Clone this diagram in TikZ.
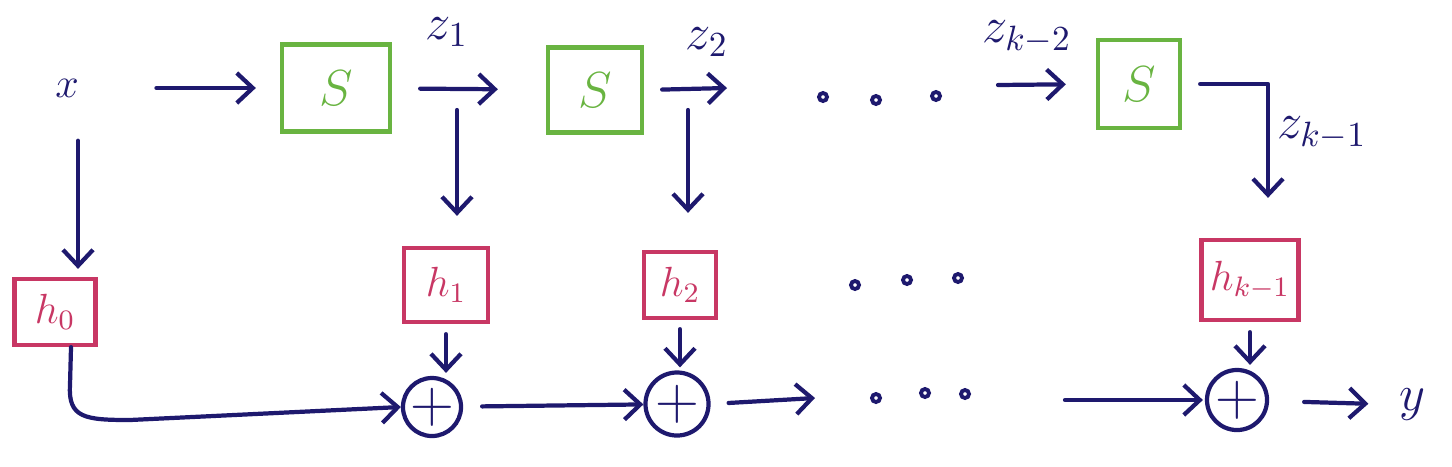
\documentclass[tikz,border=0pt]{standalone}
\usetikzlibrary{arrows.meta}
\definecolor{navy}{RGB}{30,25,110}
\definecolor{sgreen}{RGB}{105,180,65}
\definecolor{hred}{RGB}{200,55,100}
\begin{document}
\begin{tikzpicture}[x=0.01cm,y=-0.01cm,
  line width=1.2pt,
  arr/.style={navy,-{Straight Barb[length=1.6mm,width=3mm,line width=1.2pt]},line cap=round},
  lab/.style={navy,inner sep=1pt,font=\Large},
  sbox/.style={draw=sgreen,text=sgreen,font=\Large,inner sep=0pt},
  hbox/.style={draw=hred,text=hred,font=\large,inner sep=0pt},
  plusc/.style={draw=navy,text=navy,circle,inner sep=0pt,font=\LARGE},
  dotc/.style={draw=navy,circle,inner sep=0pt,minimum size=0.08cm,line width=1.1pt}]
\useasboundingbox (0,0) rectangle (1452,466);
% inputs / outputs
\node[lab,font=\large] (x) at (67,88) {$x$};
\node[lab] (y) at (1412,405) {$y$};
% S blocks
\node[sbox,minimum width=1.08cm,minimum height=0.87cm] (s1) at (336,88) {$S$};
\node[sbox,minimum width=0.94cm,minimum height=0.85cm] (s2) at (595,90) {$S$};
\node[sbox,minimum width=0.82cm,minimum height=0.88cm] (s3) at (1139,84) {$S$};
% h blocks
\node[hbox,minimum width=0.81cm,minimum height=0.66cm] (h0) at (55,312) {$h_0$};
\node[hbox,minimum width=0.84cm,minimum height=0.74cm] (h1) at (446,285) {$h_1$};
\node[hbox,minimum width=0.72cm,minimum height=0.66cm] (h2) at (680,285) {$h_2$};
\node[hbox,minimum width=0.97cm,minimum height=0.80cm] (hk) at (1250,280) {$h_{k-1}$};
% adders
\node[plusc,minimum size=0.55cm] (p1) at (432,407) {$+$};
\node[plusc,minimum size=0.63cm] (p2) at (677,404) {$+$};
\node[plusc,minimum size=0.60cm] (p3) at (1237,400) {$+$};
% z labels
\node[lab] (z1) at (447,32) {$z_1$};
\node[lab] (z2) at (707,42) {$z_2$};
\node[lab] (zk2) at (1027,37) {$z_{k-2}$};
\node[lab] (zk1) at (1322,133) {$z_{k-1}$};
% dots
\node[dotc] (t1) at (823,97) {};
\node[dotc] (t2) at (876,100) {};
\node[dotc] (t3) at (936,96) {};
\node[dotc] (m1) at (855,285) {};
\node[dotc] (m2) at (907,280) {};
\node[dotc] (m3) at (958,278) {};
\node[dotc] (b1) at (876,398) {};
\node[dotc] (b2) at (925,393) {};
\node[dotc] (b3) at (965,394) {};
% free coordinates
\coordinate (c1) at (457,110);
\coordinate (c2) at (688,110);
\coordinate (e2) at (727,88);
\coordinate (ek) at (998,85);
\coordinate (cr) at (1268,84);
\coordinate (bo) at (815,398);
\coordinate (bi) at (1065,400);
% top row
\draw[arr,shorten <=0.72cm,shorten >=0.24cm] (x) -- (s1);
\draw[arr,shorten <=0.28cm,shorten >=0.48cm] (s1) -- (s2);
\draw[arr,shorten <=0.18cm] (s2.east) -- (e2);
\draw[arr,shorten >=0.30cm] (ek) -- (s3.west);
\draw[arr,shorten <=0.18cm,shorten >=0.40cm,line join=round] (s3.east) -- (cr) -- (cr |- hk.north);
% down arrows
\draw[arr,shorten <=0.38cm,shorten >=0.08cm] ([xshift=0.11cm]x.south) -- ([xshift=0.11cm]x.south |- h0.north);
\draw[arr,shorten >=0.30cm] (c1) -- (c1 |- h1.north);
\draw[arr,shorten >=0.37cm] (c2) -- (c2 |- h2.north);
\draw[arr,shorten <=0.10cm,shorten >=0.03cm] (h1.south) -- (h1.south |- p1.north);
\draw[arr,shorten <=0.09cm,shorten >=0.03cm] (h2.south) -- (h2.south |- p2.north);
\draw[arr,shorten <=0.10cm,shorten >=0.03cm] (hk.south) -- (hk.south |- p3.north);
% bottom row
\draw[arr] ([xshift=0.16cm]h0.south) -- (70,385) .. controls (68,418) and (85,420) .. (130,420) -- (p1.west);
\draw[arr,shorten <=0.19cm] (p1) -- (p2);
\draw[arr,shorten <=0.18cm] (p2.east) -- (bo);
\draw[arr,shorten >=0.02cm] (bi) -- (p3.west);
\draw[arr,shorten <=0.35cm,shorten >=0.25cm] (p3) -- (y);
\end{tikzpicture}
\end{document}
